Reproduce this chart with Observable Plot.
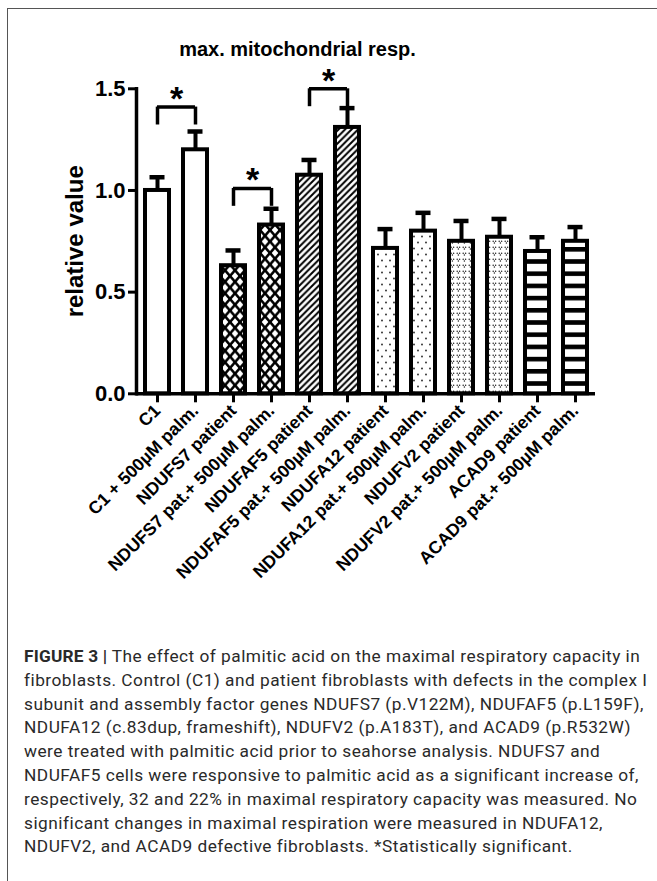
<!DOCTYPE html>
<html>
<head>
<meta charset="utf-8">
<script src="https://cdn.jsdelivr.net/npm/d3@7"></script>
<script src="https://cdn.jsdelivr.net/npm/@observablehq/plot@0.6"></script>
<style>
  html, body { margin: 0; padding: 0; background: #fff; }
  #wrap { position: relative; width: 657px; height: 881px; overflow: hidden; }
  #frame { position: absolute; left: 7px; top: 8px; width: 700px; height: 900px;
           border-left: 1.5px solid #555; border-top: 1.5px solid #555; }
  #title { position: absolute; left: 0; width: 595px; top: 38px; text-align: center;
           font: bold 20px "Liberation Sans", Arial, sans-serif; color: #000; }
  #chart { position: absolute; left: 0; top: 0; }
  #caption { position: absolute; left: 24px; top: 645px; width: 630px;
             font: 17.3px Roboto, "Liberation Sans", sans-serif; line-height: 23.8px; color: #2a2a2a;
             letter-spacing: 0.48px; white-space: nowrap; }
  #caption b { font-weight: bold; letter-spacing: 0.2px; }
</style>
</head>
<body>
<div id="wrap">
  <div id="frame"></div>
  <div id="chart"></div>
  <div id="title">max. mitochondrial resp.</div>
  <div id="caption"><b>FIGURE 3 |</b> The effect of palmitic acid on the maximal respiratory capacity in<br>fibroblasts. Control (C1) and patient fibroblasts with defects in the complex I<br>subunit and assembly factor genes NDUFS7 (p.V122M), NDUFAF5 (p.L159F),<br>NDUFA12 (c.83dup, frameshift), NDUFV2 (p.A183T), and ACAD9 (p.R532W)<br>were treated with palmitic acid prior to seahorse analysis. NDUFS7 and<br>NDUFAF5 cells were responsive to palmitic acid as a significant increase of,<br>respectively, 32 and 22% in maximal respiratory capacity was measured. No<br>significant changes in maximal respiration were measured in NDUFA12,<br>NDUFV2, and ACAD9 defective fibroblasts. *Statistically significant.</div>
</div>
<script>
const categories = [
  "C1", "C1 + 500µM palm.",
  "NDUFS7 patient", "NDUFS7 pat.+ 500µM palm.",
  "NDUFAF5 patient", "NDUFAF5 pat.+ 500µM palm.",
  "NDUFA12 patient", "NDUFA12 pat.+ 500µM palm.",
  "NDUFV2 patient", "NDUFV2 pat.+ 500µM palm.",
  "ACAD9 patient", "ACAD9 pat.+ 500µM palm."
];
const values = [1.00, 1.20, 0.63, 0.83, 1.075, 1.31, 0.715, 0.80, 0.75, 0.77, 0.70, 0.75];
const errors = [0.065, 0.09, 0.075, 0.08, 0.075, 0.095, 0.095, 0.09, 0.10, 0.09, 0.07, 0.07];
const patterns = ["open", "open", "cross", "cross", "hatch", "hatch", "dots", "dots", "vdots", "vdots", "stripes", "stripes"];
const yTicks = [0, 0.5, 1.0, 1.5];
const yLabel = "relative value";
// significance brackets: from category a to category b at height y
const bracketA = ["C1", "NDUFS7 patient", "NDUFAF5 patient"];
const bracketB = ["C1 + 500µM palm.", "NDUFS7 pat.+ 500µM palm.", "NDUFAF5 pat.+ 500µM palm."];
const bracketY = [1.41, 1.01, 1.50];
const starText = "*";

const bars = categories.map((c, i) => ({cat: c, value: values[i], top: values[i] + errors[i], pat: patterns[i]}));
const brackets = bracketA.map((a, i) => ({a, b: bracketB[i], y: bracketY[i]}));
const stubs = brackets.flatMap(d => [{cat: d.a, y: d.y}, {cat: d.b, y: d.y}]);
const fillOf = p => p === "open" ? "white" : `url(#pat-${p})`;

const FONT = '"Liberation Sans", Arial, sans-serif';
const W = 657, H = 600;

const plot = Plot.plot({
  width: W,
  height: H,
  marginLeft: 136,
  marginRight: 62,
  marginTop: 88.3,
  marginBottom: H - 393.3,
  style: {fontFamily: FONT, color: "#000", background: "transparent", overflow: "visible"},
  x: {type: "band", domain: categories, paddingInner: 0.373, paddingOuter: 0.183},
  y: {domain: [0, 1.5]},
  color: {type: "identity"},
  marks: [
    // error bars (behind the bars)
    Plot.ruleX(bars, {x: "cat", y1: "value", y2: "top", stroke: "#000", strokeWidth: 4}),
    Plot.tickY(bars, {x: "cat", y: "top", stroke: "#000", strokeWidth: 4.5, insetLeft: 4.5, insetRight: 4.5}),
    // bars
    Plot.barY(bars, {x: "cat", y: "value", fill: d => fillOf(d.pat), stroke: "#000", strokeWidth: 4, strokeLinejoin: "miter"}),
    // axes
    Plot.ruleY([0], {stroke: "#000", strokeWidth: 3.5}),
    Plot.frame({anchor: "left", stroke: "#000", strokeWidth: 3.5}),
    Plot.axisY({ticks: yTicks, tickFormat: d3.format(".1f"), tickSize: 8, tickPadding: 3, strokeWidth: 3,
      fontSize: 22, fontWeight: "bold", label: null}),
    Plot.axisX({tickRotate: -45, tickSize: 9, tickPadding: 5, strokeWidth: 3, fontSize: 17.6, fontWeight: "bold", label: null}),
    Plot.text([yLabel], {frameAnchor: "left", textAnchor: "middle", rotate: -90, dx: -61, fontSize: 24, fontWeight: "bold", fill: "#000"}),
    // significance brackets
    Plot.ruleY(brackets, {x1: "a", x2: "b", y: "y", stroke: "#000", strokeWidth: 3.5, insetLeft: 12, insetRight: 12}),
    Plot.ruleX(stubs, {x: "cat", y1: "y", y2: d => d.y - 0.088, stroke: "#000", strokeWidth: 3.5}),
    Plot.text(brackets, {x: "a", y: "y", text: () => starText, dx: 19.1, dy: -8, fontSize: 34, fontWeight: "bold", fill: "#000"})
  ]
});

// pattern definitions used by the bar fills
const ns = "http://www.w3.org/2000/svg";
const defs = document.createElementNS(ns, "defs");
defs.innerHTML = `
  <pattern id="pat-cross" patternUnits="userSpaceOnUse" width="10" height="11.5">
    <rect width="10" height="11.5" fill="white"/>
    <path d="M0,0L10,11.5M10,0L0,11.5" stroke="black" stroke-width="2.6" stroke-linecap="square"/>
  </pattern>
  <pattern id="pat-hatch" patternUnits="userSpaceOnUse" width="6.5" height="6.5">
    <rect width="6.5" height="6.5" fill="white"/>
    <path d="M0,6.5L6.5,0M-1,1L1,-1M5.5,7.5L7.5,5.5" stroke="black" stroke-width="2" stroke-linecap="square"/>
  </pattern>
  <pattern id="pat-dots" patternUnits="userSpaceOnUse" width="8" height="12">
    <rect width="8" height="12" fill="white"/>
    <circle cx="2" cy="2.5" r="0.9" fill="#222"/>
    <circle cx="6" cy="8.5" r="0.9" fill="#222"/>
  </pattern>
  <pattern id="pat-vdots" patternUnits="userSpaceOnUse" width="6" height="6">
    <rect width="6" height="6" fill="white"/>
    <circle cx="1.2" cy="1.3" r="0.75" fill="#222"/>
    <circle cx="3.6" cy="1.3" r="0.75" fill="#222"/>
    <circle cx="2.4" cy="3.0" r="0.75" fill="#222"/>
  </pattern>
  <pattern id="pat-stripes" patternUnits="userSpaceOnUse" width="12" height="12.2" y="3">
    <rect width="12" height="12.2" fill="white"/>
    <rect width="12" height="4.6" fill="black"/>
  </pattern>`;
plot.insertBefore(defs, plot.firstChild);
document.getElementById("chart").appendChild(plot);
</script>
</body>
</html>
